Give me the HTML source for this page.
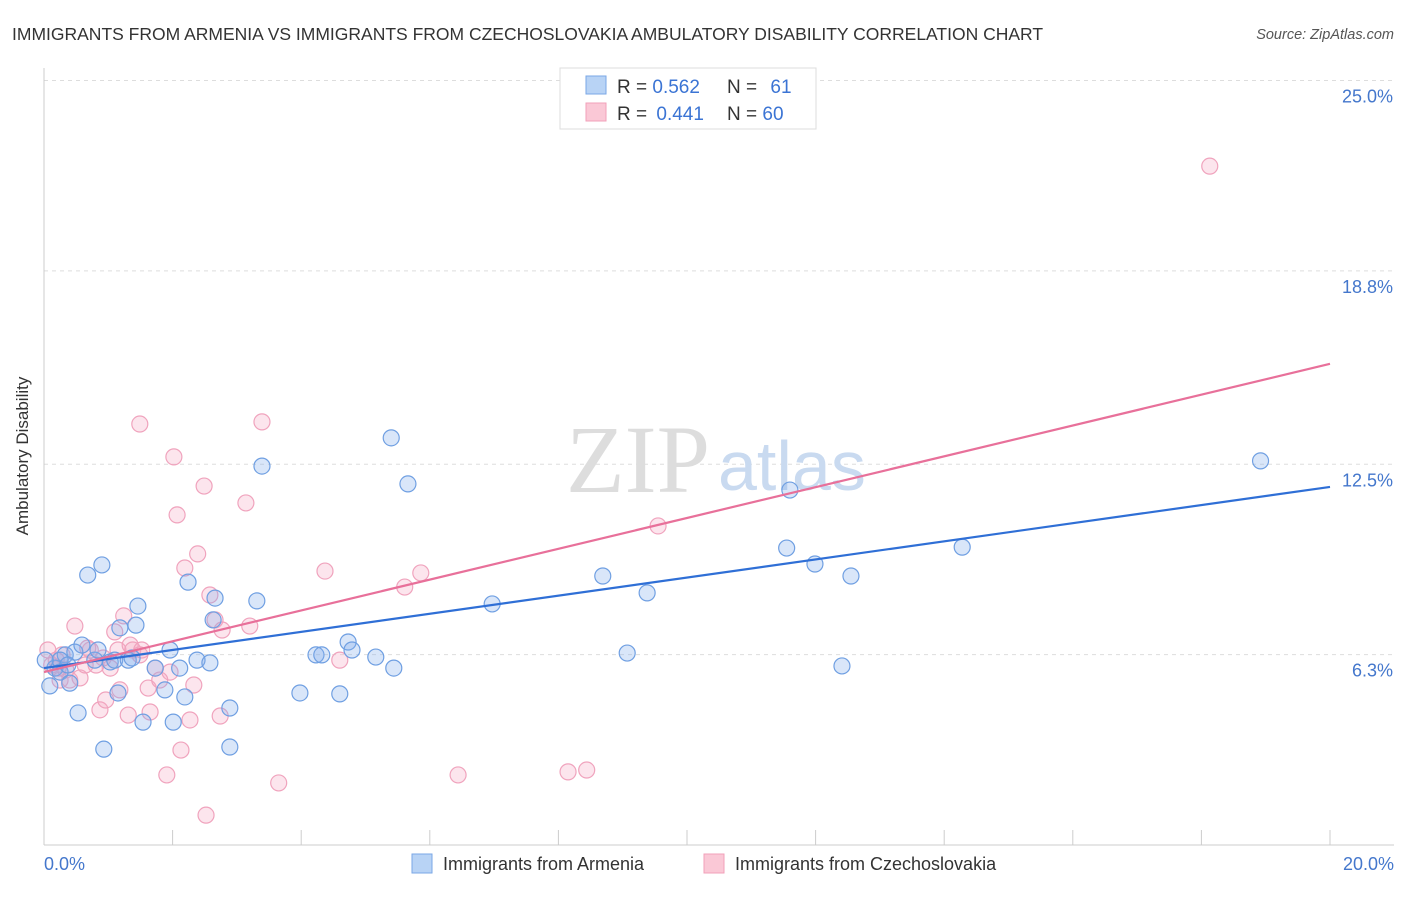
<!DOCTYPE html>
<html><head><meta charset="utf-8"><style>
body{margin:0;background:#fff;font-family:"Liberation Sans",sans-serif;}
svg text{font-family:"Liberation Sans",sans-serif;}
</style></head><body>
<svg id="chart" width="1406" height="892">
<text x="12" y="40" font-size="17.5" fill="#333">IMMIGRANTS FROM ARMENIA VS IMMIGRANTS FROM CZECHOSLOVAKIA AMBULATORY DISABILITY CORRELATION CHART</text>
<text x="1394" y="39" font-size="14.5" fill="#555" font-style="italic" text-anchor="end">Source: ZipAtlas.com</text>
<g id="grid"></g>
<text x="710" y="492" font-size="96" font-family="Liberation Serif" fill="#ddd" text-anchor="end" style="font-family:'Liberation Serif',serif">ZIP</text>
<text x="718" y="490" font-size="70" fill="#c9daf0">atlas</text>
<line x1="44" y1="68" x2="44" y2="845" stroke="#ccc"/>
<line x1="44" y1="845" x2="1394" y2="845" stroke="#ccc"/>
<text x="28" y="456" font-size="17" fill="#333" text-anchor="middle" transform="rotate(-90 28 456)">Ambulatory Disability</text>
<text x="44" y="870" font-size="18" fill="#4477cc">0.0%</text>
<text x="1394" y="870" font-size="18" fill="#4477cc" text-anchor="end">20.0%</text>
<g id="pts"></g>
<g id="lines"></g>
<g>
<rect x="560" y="68" width="256" height="61" fill="#fff" stroke="#ddd"/>
<rect x="586" y="76" width="20" height="18" fill="#b8d3f5" stroke="#7aa7e6"/>
<rect x="586" y="103" width="20" height="18" fill="#fac8d6" stroke="#f2a0b9"/>
<text x="617" y="93" font-size="19" fill="#333">R = <tspan fill="#3b74d4">0.562</tspan></text>
<text x="727" y="93" font-size="19" fill="#333">N = <tspan fill="#3b74d4" dx="8">61</tspan></text>
<text x="617" y="120" font-size="19" fill="#333">R = <tspan fill="#3b74d4" dx="4">0.441</tspan></text>
<text x="727" y="120" font-size="19" fill="#333">N = <tspan fill="#3b74d4">60</tspan></text>
</g>
<g>
<rect x="412" y="854" width="20" height="19" fill="#b8d3f5" stroke="#7aa7e6"/>
<text x="443" y="870" font-size="18" fill="#333">Immigrants from Armenia</text>
<rect x="704" y="854" width="20" height="19" fill="#fac8d6" stroke="#f2a0b9"/>
<text x="735" y="870" font-size="18" fill="#333">Immigrants from Czechoslovakia</text>
</g>
</svg>
<script>
const yTicks=[6.3,12.5,18.8,25.0];
const yTickLabels=["6.3%","12.5%","18.8%","25.0%"];
const xTicks=[0,2,4,6,8,10,12,14,16,18,20];
const blueX=[0.09,0.17,0.25,0.33,0.40,0.48,0.53,0.59,0.68,0.79,0.84,0.90,0.93,1.03,1.10,1.15,1.18,1.31,1.37,1.43,1.46,1.54,1.73,1.88,1.96,2.01,2.11,2.19,2.24,2.38,2.58,2.63,2.66,2.89,2.89,3.31,3.39,3.98,4.23,4.32,4.60,4.73,4.79,5.16,5.40,5.44,5.66,6.97,8.69,9.07,9.38,11.55,11.60,11.99,12.41,12.55,14.28,18.92,0.25,0.37,0.02];
const blueY=[5.28,5.86,5.73,6.29,5.37,6.38,4.40,6.61,8.89,6.12,6.45,9.22,3.22,6.06,6.12,5.05,7.17,6.12,6.19,7.26,7.88,4.10,5.86,5.15,6.45,4.10,5.86,4.92,8.66,6.12,6.03,7.43,8.14,4.56,3.29,8.05,12.44,5.05,6.29,6.29,5.02,6.71,6.45,6.22,13.36,5.86,11.86,7.95,8.86,6.35,8.31,9.77,11.66,9.25,5.93,8.86,9.80,12.61,6.12,5.96,6.12];
const pinkX=[0.06,0.12,0.19,0.25,0.34,0.40,0.48,0.56,0.64,0.72,0.81,0.87,0.96,1.03,1.10,1.15,1.18,1.24,1.31,1.34,1.38,1.49,1.52,1.62,1.65,1.73,1.80,1.91,1.96,2.02,2.07,2.13,2.19,2.27,2.33,2.39,2.49,2.52,2.58,2.66,2.74,2.77,3.14,3.20,3.39,3.65,4.37,4.60,5.61,5.86,6.44,8.15,8.44,9.55,18.13,0.22,0.68,0.28,0.92,1.49];
const pinkY=[6.45,5.96,6.12,5.47,5.80,5.47,7.23,5.54,5.96,6.45,5.96,4.50,4.82,5.86,7.04,6.45,5.15,7.56,4.33,6.61,6.45,13.81,6.45,5.21,4.43,5.86,5.47,2.38,5.73,12.74,10.85,3.19,9.12,4.17,5.31,9.58,11.79,1.07,8.24,7.43,4.30,7.10,11.24,7.23,13.88,2.12,9.02,6.12,8.50,8.96,2.38,2.48,2.54,10.49,22.21,5.86,6.51,6.29,6.19,6.29];
const blueLine=[5.86,11.76];
const pinkLine=[5.73,15.77];
const NS='http://www.w3.org/2000/svg';
const xs=v=>44+v/20*1286;
const ys=v=>848-v*30.7;
function mk(tag,attrs,parent){const e=document.createElementNS(NS,tag);for(const k in attrs)e.setAttribute(k,attrs[k]);parent.appendChild(e);return e;}
const grid=document.getElementById('grid');
yTicks.forEach((t,i)=>{
 const l=mk('line',{x1:44,x2:1394,y1:ys(t),y2:ys(t),stroke:'#ddd','stroke-dasharray':'4,4'},grid);
 
 
 const tx=mk('text',{x:1393,y:ys(t)+22,'font-size':18,fill:'#4477cc','text-anchor':'end'},grid);
 tx.textContent=yTickLabels[i];
 
 
});
xTicks.forEach(t=>{
 const l=mk('line',{x1:xs(t),x2:xs(t),y1:830,y2:845,stroke:'#ccc'},grid);
 
 
});
const pts=document.getElementById('pts');
function drawPts(X,Y,fill,stroke,name){
 X.forEach((x,i)=>{
  const c=mk('circle',{cx:xs(x),cy:ys(Y[i]),r:8,fill:fill,stroke:stroke,'stroke-width':1.2},pts);
  
  
 });
}
drawPts(pinkX,pinkY,'rgba(246,168,194,0.3)','#f0a3bd','czechoslovakia-point');
drawPts(blueX,blueY,'rgba(130,172,235,0.3)','#6f9fe2','armenia-point');
const lines=document.getElementById('lines');
const bl=mk('line',{x1:xs(0),y1:ys(blueLine[0]),x2:xs(20),y2:ys(blueLine[1]),stroke:'#2f6fd6','stroke-width':2.2},lines);


const pl=mk('line',{x1:xs(0),y1:ys(pinkLine[0]),x2:xs(20),y2:ys(pinkLine[1]),stroke:'#e8709a','stroke-width':2.2},lines);


</script>
</body></html>
